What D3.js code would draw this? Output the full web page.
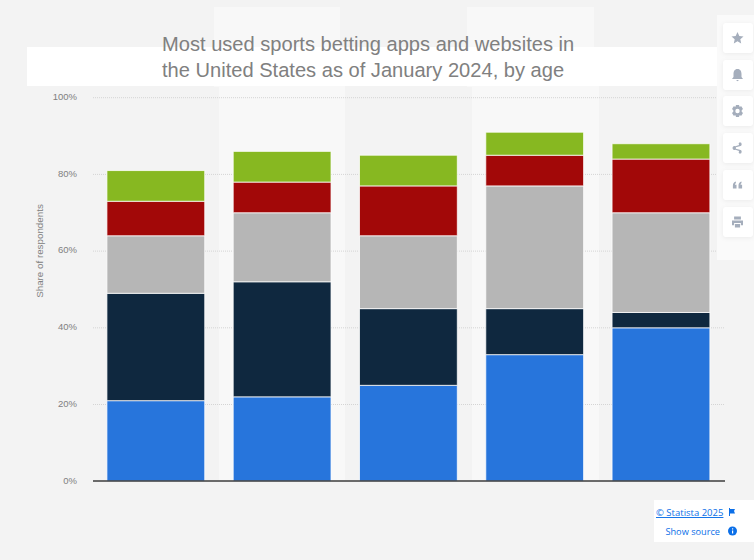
<!DOCTYPE html>
<html><head><meta charset="utf-8">
<script src="https://cdnjs.cloudflare.com/ajax/libs/d3/7.8.5/d3.min.js"></script>
<style>html,body{margin:0;padding:0;background:#f3f3f3;overflow:hidden}svg{display:block}text{font-family:"Liberation Sans",Arial,sans-serif}</style>
</head><body><svg id="c" width="754" height="560"></svg>
<script>
const groups = ["Group 1","Group 2","Group 3","Group 4","Group 5"];
const seriesNames = ["Series 1","Series 2","Series 3","Series 4","Series 5"];
const seriesColors = ["#2775dc","#0f283f","#b6b6b6","#a20808","#87b821"];
const series1 = [21,22,25,33,40];
const series2 = [28,30,20,12,4];
const series3 = [15,18,19,32,26];
const series4 = [9,8,13,8,14];
const series5 = [8,8,8,6,4];
const yTicks = [0,20,40,60,80,100];
const titleLines = ["Most used sports betting apps and websites in","the United States as of January 2024, by age"];
const yLabel = "Share of respondents";

const svg = d3.select("#c");
const all = [series1,series2,series3,series4,series5];
const rows = groups.map((g,i)=>{const r={group:g};seriesNames.forEach((s,k)=>r[s]=all[k][i]);return r;});
const stacked = d3.stack().keys(seriesNames)(rows);
const x = d3.scaleBand().domain(groups).range([92.4,724.4]).paddingInner(0.2255).paddingOuter(0.115);
const y = d3.scaleLinear().domain([0,100]).range([481.2,97.7]);

// page panels
const bg = svg.append("g");
bg.append("rect").attr("x",214).attr("y",7).attr("width",126).attr("height",80).attr("fill","#f8f8f8");
bg.append("rect").attr("x",467).attr("y",7).attr("width",127).attr("height",80).attr("fill","#f8f8f8");
bg.append("rect").attr("x",219).attr("y",86).attr("width",126).attr("height",395).attr("fill","#f8f8f8");
bg.append("rect").attr("x",472).attr("y",86).attr("width",127).attr("height",395).attr("fill","#f8f8f8");
bg.append("rect").attr("x",27).attr("y",47).attr("width",690).attr("height",39).attr("fill","#fff");

// grid
svg.append("g").selectAll("line").data(yTicks.filter(d=>d>0)).join("line")
 .attr("x1",93).attr("x2",725).attr("y1",d=>y(d)).attr("y2",d=>y(d))
 .attr("stroke","#d4d4d4").attr("stroke-dasharray","1 1");

// y labels
svg.append("g").selectAll("text").data(yTicks).join("text")
 .attr("x",77).attr("y",d=>y(d)+2.3).attr("text-anchor","end").attr("font-size",9.5).attr("fill","#808080")
 .text(d=>d+"%");
svg.append("text").attr("transform","translate(43,251) rotate(-90)").attr("text-anchor","middle")
 .attr("font-size",9.8).attr("fill","#808080").text(yLabel);

// bars
svg.append("g").selectAll("g").data(stacked).join("g").attr("fill",(d,i)=>seriesColors[i])
 .selectAll("rect").data(d=>d.map(v=>({v,g:v.data.group}))).join("rect")
 .attr("x",d=>x(d.g)).attr("width",x.bandwidth())
 .attr("y",d=>y(d.v[1])).attr("height",d=>y(d.v[0])-y(d.v[1]))
 .attr("stroke","#fff").attr("stroke-opacity",0.75).attr("stroke-width",1);

// baseline
svg.append("line").attr("x1",93).attr("x2",725).attr("y1",481).attr("y2",481).attr("stroke","#3c3c3c").attr("stroke-width",1.4);

// title
svg.append("g").selectAll("text").data(titleLines).join("text")
 .attr("x",162).attr("y",(d,i)=>51+i*26).attr("font-size",20.1).attr("fill","#808080").text(d=>d);

// toolbar
svg.append("rect").attr("x",717).attr("y",15).attr("width",37).attr("height",245).attr("fill","#fafafa");
const buttonTops = [23,60,96,133,170,207];
const iconColor = "#a5aebc";
const icons = [
 "M0,-6L1.8,-2L6,-1.6L2.8,1.2L3.7,5.5L0,3.2L-3.7,5.5L-2.8,1.2L-6,-1.6L-1.8,-2Z",
 "M0,-6C3,-6 4,-3.5 4,-1L4,2L5.5,4L-5.5,4L-4,2L-4,-1C-4,-3.5 -3,-6 0,-6ZM-1.5,5H1.5L0,6.3Z",
 "M-1.5,-6H1.5L2,-4.2L3.8,-4.8L5.5,-2L4.2,-0.8V0.8L5.5,2L3.8,4.8L2,4.2L1.5,6H-1.5L-2,4.2L-3.8,4.8L-5.5,2L-4.2,0.8V-0.8L-5.5,-2L-3.8,-4.8L-2,-4.2ZM0,-2.2A2.2,2.2 0 1 0 0,2.2A2.2,2.2 0 1 0 0,-2.2Z",
 "M2.2,-5.8A2,2 0 1 1 2.2,-1.8L-1.6,-0.7V0.7L2.2,1.8A2,2 0 1 1 2.2,5.8A2,2 0 0 1 1.6,2.9L-2.1,1.8A2,2 0 1 1 -2.1,-1.8L1.6,-2.9A2,2 0 0 1 2.2,-5.8Z",
 "M-1.6,-3.4C-3.6,-2.8 -4.6,-1.4 -4.6,0.6V3.4H-1V-0.2H-2.6C-2.5,-1 -2.1,-1.6 -1.6,-2ZM4,-3.4C2,-2.8 1,-1.4 1,0.6V3.4H4.6V-0.2H3C3.1,-1 3.5,-1.6 4,-2Z",
 "M-3.4,-5.5H3.4V-2.6H-3.4ZM-5.5,-1.6H5.5V3.2H3.4V1H-3.4V3.2H-5.5ZM-2.6,2H2.6V5.6H-2.6Z"
];
const tb = svg.append("g").selectAll("g").data(buttonTops).join("g");
tb.append("rect").attr("x",723).attr("y",d=>d).attr("width",30).attr("height",30).attr("rx",3).attr("fill","#fff")
 .style("filter","drop-shadow(0 1px 2px rgba(0,0,0,.06))");
tb.append("path").attr("transform",d=>`translate(737.5,${d+15})`).attr("d",(d,i)=>icons[i]).attr("fill",iconColor).attr("fill-rule","evenodd");

// attribution
svg.append("rect").attr("x",654).attr("y",500).attr("width",100).attr("height",42).attr("fill","#fff");
const link = "#0b6fe8";
svg.append("text").attr("x",656).attr("y",516).attr("font-size",9.5).attr("fill",link)
 .attr("text-decoration","underline").style("font-family","'Open Sans',sans-serif").text("© Statista 2025");
svg.append("text").attr("x",720).attr("y",535).attr("font-size",9.2).attr("fill",link).attr("text-anchor","end")
 .style("font-family","'Open Sans',sans-serif").text("Show source");
svg.append("path").attr("transform","translate(729,508)").attr("fill",link).attr("d","M0,0H1V1H6L5,3L6,5.5H1V8H0Z");
svg.append("circle").attr("cx",732.5).attr("cy",531).attr("r",4.5).attr("fill",link);
svg.append("rect").attr("x",732).attr("y",530.5).attr("width",1.2).attr("height",3).attr("fill","#fff");
svg.append("rect").attr("x",732).attr("y",528.3).attr("width",1.2).attr("height",1.2).attr("fill","#fff");
</script></body></html>
